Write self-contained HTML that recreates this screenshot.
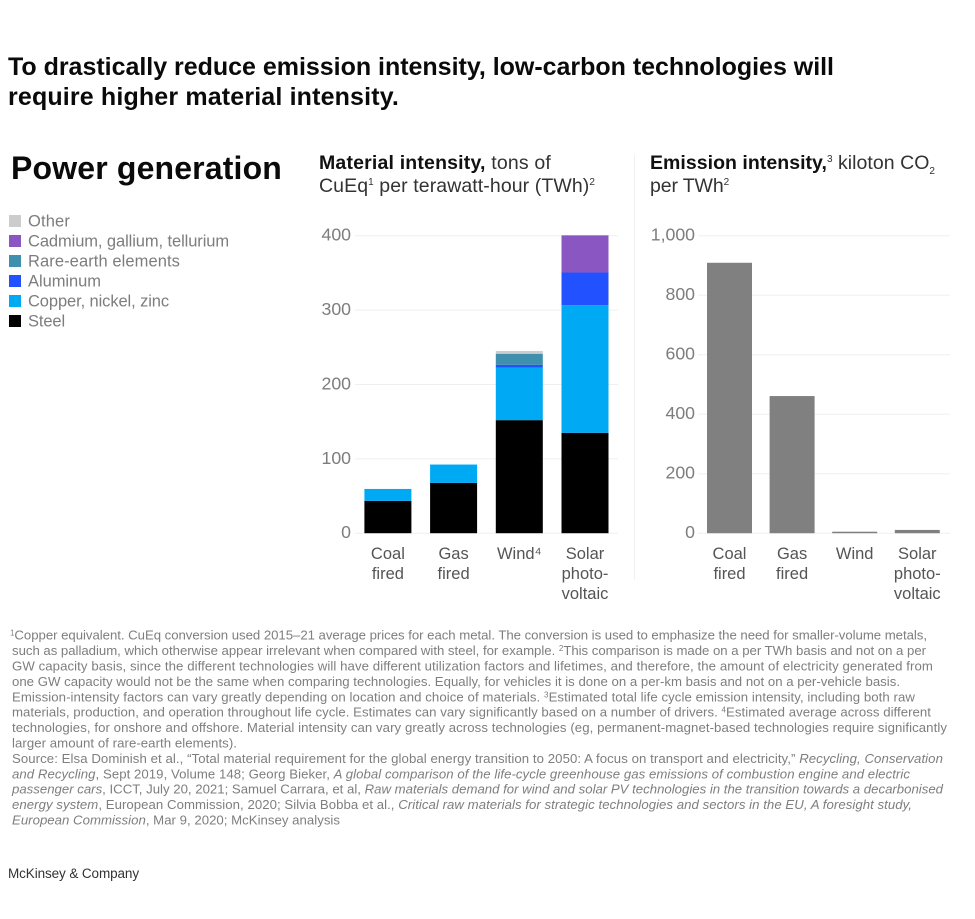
<!DOCTYPE html>
<html lang="en">
<head>
<meta charset="utf-8">
<title>Power generation: material and emission intensity</title>
<style>
html,body{margin:0;padding:0;background:#fff;width:975px;height:919px;overflow:hidden}
svg{display:block;font-family:"Liberation Sans",sans-serif}
.title{font-size:25px;font-weight:bold;fill:#0a0a0a}
.legend-text{font-size:16.5px;fill:#7d7d7d}
.heading{font-size:19.5px;fill:#333}
.heading .b{font-weight:bold;fill:#111}
.foot{font-size:13.2px;fill:#7e7e7e}
.tick{font-size:17.7px;fill:#7d7d7d}
.cat{font-size:16.5px;fill:#555}
</style>
</head>
<body>
<svg id="page" xmlns="http://www.w3.org/2000/svg" width="975" height="919" viewBox="0 0 975 919">
  <text class="title fit" data-w="826" x="8" y="75">To drastically reduce emission intensity, low-carbon technologies will</text>
  <text class="title fit" data-w="391" x="8" y="105">require higher material intensity.</text>

  <text class="fit" data-w="271" x="11" y="179" font-size="32" font-weight="bold" fill="#0a0a0a">Power generation</text>

  <g>
    <rect x="9" y="215" width="12" height="12" fill="#cccccc"/>
    <text class="legend-text fit" data-w="42" x="28" y="226.5">Other</text>
    <rect x="9" y="235" width="12" height="12" fill="#8a56c2"/>
    <text class="legend-text fit" data-w="201" x="28" y="246.5">Cadmium, gallium, tellurium</text>
    <rect x="9" y="255" width="12" height="12" fill="#3f8fae"/>
    <text class="legend-text fit" data-w="152" x="28" y="266.5">Rare-earth elements</text>
    <rect x="9" y="275" width="12" height="12" fill="#2251ff"/>
    <text class="legend-text fit" data-w="73" x="28" y="286.5">Aluminum</text>
    <rect x="9" y="295" width="12" height="12" fill="#00a9f4"/>
    <text class="legend-text fit" data-w="141" x="28" y="306.5">Copper, nickel, zinc</text>
    <rect x="9" y="315" width="12" height="12" fill="#000000"/>
    <text class="legend-text fit" data-w="37" x="28" y="326.5">Steel</text>
  </g>

  <text class="heading fit" data-w="232" x="319" y="169"><tspan class="b">Material intensity,</tspan> tons of</text>
  <text class="heading fit" data-w="276" x="319" y="192">CuEq<tspan font-size="10" dy="-7">1</tspan><tspan dy="7"> per terawatt-hour (TWh)</tspan><tspan font-size="10" dy="-7">2</tspan></text>

  <line x1="634.5" x2="634.5" y1="155" y2="580" stroke="#f0f0f0" stroke-width="1"/>

  <text class="heading fit" data-w="285" x="650" y="169"><tspan class="b">Emission intensity,</tspan><tspan font-size="10" dy="-7">3</tspan><tspan dy="7"> kiloton CO</tspan><tspan font-size="10" dy="5">2</tspan></text>
  <text class="heading fit" data-w="79" x="650" y="192">per TWh<tspan font-size="10" dy="-7">2</tspan></text>

  <g id="material-chart"></g>
  <g id="emission-chart"></g>

  <g>
    <text class="foot fit" data-w="917" x="10" y="639.5"><tspan font-size="8" dy="-4">1</tspan><tspan dy="4">Copper equivalent. CuEq conversion used 2015–21 average prices for each metal. The conversion is used to emphasize the need for smaller-volume metals,</tspan></text>
    <text class="foot fit" data-w="914" x="12" y="655">such as palladium, which otherwise appear irrelevant when compared with steel, for example. <tspan font-size="8" dy="-4">2</tspan><tspan dy="4">This comparison is made on a per TWh basis and not on a per</tspan></text>
    <text class="foot fit" data-w="921" x="12" y="670.5">GW capacity basis, since the different technologies will have different utilization factors and lifetimes, and therefore, the amount of electricity generated from</text>
    <text class="foot fit" data-w="888" x="12" y="686">one GW capacity would not be the same when comparing technologies. Equally, for vehicles it is done on a per-km basis and not on a per-vehicle basis.</text>
    <text class="foot fit" data-w="903" x="12" y="701.5">Emission-intensity factors can vary greatly depending on location and choice of materials. <tspan font-size="8" dy="-4">3</tspan><tspan dy="4">Estimated total life cycle emission intensity, including both raw</tspan></text>
    <text class="foot fit" data-w="919" x="12" y="716.5">materials, production, and operation throughout life cycle. Estimates can vary significantly based on a number of drivers. <tspan font-size="8" dy="-4">4</tspan><tspan dy="4">Estimated average across different</tspan></text>
    <text class="foot fit" data-w="935" x="12" y="732">technologies, for onshore and offshore. Material intensity can vary greatly across technologies (eg, permanent-magnet-based technologies require significantly</text>
    <text class="foot fit" data-w="225" x="12" y="747.5">larger amount of rare-earth elements).</text>
    <text class="foot fit" data-w="931" x="12" y="763">Source: Elsa Dominish et al., “Total material requirement for the global energy transition to 2050: A focus on transport and electricity,” <tspan font-style="italic">Recycling, Conservation</tspan></text>
    <text class="foot fit" data-w="898" x="12" y="778.5"><tspan font-style="italic">and Recycling</tspan>, Sept 2019, Volume 148; Georg Bieker, <tspan font-style="italic">A global comparison of the life-cycle greenhouse gas emissions of combustion engine and electric</tspan></text>
    <text class="foot fit" data-w="931" x="12" y="793.5"><tspan font-style="italic">passenger cars</tspan>, ICCT, July 20, 2021; Samuel Carrara, et al, <tspan font-style="italic">Raw materials demand for wind and solar PV technologies in the transition towards a decarbonised</tspan></text>
    <text class="foot fit" data-w="900" x="12" y="809"><tspan font-style="italic">energy system</tspan>, European Commission, 2020; Silvia Bobba et al., <tspan font-style="italic">Critical raw materials for strategic technologies and sectors in the EU, A foresight study,</tspan></text>
    <text class="foot fit" data-w="328" x="12" y="824.5"><tspan font-style="italic">European Commission</tspan>, Mar 9, 2020; McKinsey analysis</text>
  </g>

  <text class="fit" data-w="131" x="8" y="878" font-size="13.5" fill="#333">McKinsey &amp; Company</text>
</svg>
<script>
// ---- Chart data ----
const materialCategories = [["Coal", "fired"], ["Gas", "fired"], ["Wind⁴"], ["Solar", "photo-", "voltaic"]];
const emissionCategories = [["Coal", "fired"], ["Gas", "fired"], ["Wind"], ["Solar", "photo-", "voltaic"]];
const steelValues = [43.5, 67.7, 152, 135];
const copperValues = [16, 24.6, 70.6, 171.5];
const aluminumValues = [0, 0, 3.7, 44];
const rareEarthValues = [0, 0, 15, 0];
const cadmiumValues = [0, 0, 0, 50];
const otherValues = [0, 0, 3.7, 0];
const materialTicks = [0, 100, 200, 300, 400];
const materialMax = 400;
const emissionValues = [909, 461, 5, 11];
const emissionTicks = [0, 200, 400, 600, 800, 1000];
const emissionTickLabels = ["0", "200", "400", "600", "800", "1,000"];
const emissionMax = 1000;

const NS = "http://www.w3.org/2000/svg";
const plotTop = 235.7;
const plotBottom = 533.2;

function yScale(value, max) {
  return plotBottom - (value / max) * (plotBottom - plotTop);
}
function bandX(index, start, step) {
  return start + index * step;
}
function svgEl(tag, attrs, parent) {
  const el = document.createElementNS(NS, tag);
  for (const k in attrs) el.setAttribute(k, attrs[k]);
  parent.appendChild(el);
  return el;
}
function drawTicks(parent, ticks, labels, max, gridX1, gridX2, labelX) {
  ticks.forEach(function (t, i) {
    const y = yScale(t, max);
    const line = svgEl("line", {x1: gridX1, x2: gridX2, y1: y, y2: y, stroke: "#efefef", "stroke-width": 1}, parent);
    
    
    const label = svgEl("text", {x: labelX, y: y + 5, "text-anchor": "end", "class": "tick"}, parent);
    
    
    label.textContent = labels[i];
  });
}
function drawCategories(parent, cats, start, step, width) {
  cats.forEach(function (lines, i) {
    const cx = bandX(i, start, step) + width / 2;
    lines.forEach(function (ln, j) {
      const t = svgEl("text", {x: cx, y: 559 + j * 20, "text-anchor": "middle", "class": "cat"}, parent);
      
      
      t.textContent = ln;
    });
  });
}

// Material intensity: stacked bars
const materialGroup = document.getElementById("material-chart");
const matStart = 364.4, matStep = 65.7, matWidth = 47;
drawTicks(materialGroup, materialTicks, materialTicks.map(String), materialMax, 355, 618, 351);
const stackSeries = [
  {name: "steel", color: "#000000", values: steelValues},
  {name: "copper-nickel-zinc", color: "#00a9f4", values: copperValues},
  {name: "aluminum", color: "#2251ff", values: aluminumValues},
  {name: "rare-earth", color: "#3f8fae", values: rareEarthValues},
  {name: "cadmium-gallium-tellurium", color: "#8a56c2", values: cadmiumValues},
  {name: "other", color: "#cccccc", values: otherValues}
];
materialCategories.forEach(function (cat, i) {
  let base = 0;
  stackSeries.forEach(function (s) {
    const v = s.values[i];
    if (v <= 0) return;
    const y1 = yScale(base + v, materialMax);
    const y0 = yScale(base, materialMax);
    const r = svgEl("rect", {x: bandX(i, matStart, matStep), y: y1, width: matWidth, height: y0 - y1, fill: s.color}, materialGroup);
    
    
    base += v;
  });
});
drawCategories(materialGroup, materialCategories, matStart, matStep, matWidth);

// Emission intensity: simple bars
const emissionGroup = document.getElementById("emission-chart");
const emStart = 707, emStep = 62.6, emWidth = 45;
drawTicks(emissionGroup, emissionTicks, emissionTickLabels, emissionMax, 698, 950, 695);
emissionValues.forEach(function (v, i) {
  const y = yScale(v, emissionMax);
  const r = svgEl("rect", {x: bandX(i, emStart, emStep), y: y, width: emWidth, height: plotBottom - y, fill: "#808080"}, emissionGroup);
  
  
});
drawCategories(emissionGroup, emissionCategories, emStart, emStep, emWidth);

// Fit lines of text to their measured widths
document.querySelectorAll(".fit").forEach(function (t) {
  const target = parseFloat(t.getAttribute("data-w"));
  const len = t.getComputedTextLength();
  const n = t.textContent.length;
  t.style.letterSpacing = ((target - len) / n).toFixed(4) + "px";
});
</script>
</body>
</html>
